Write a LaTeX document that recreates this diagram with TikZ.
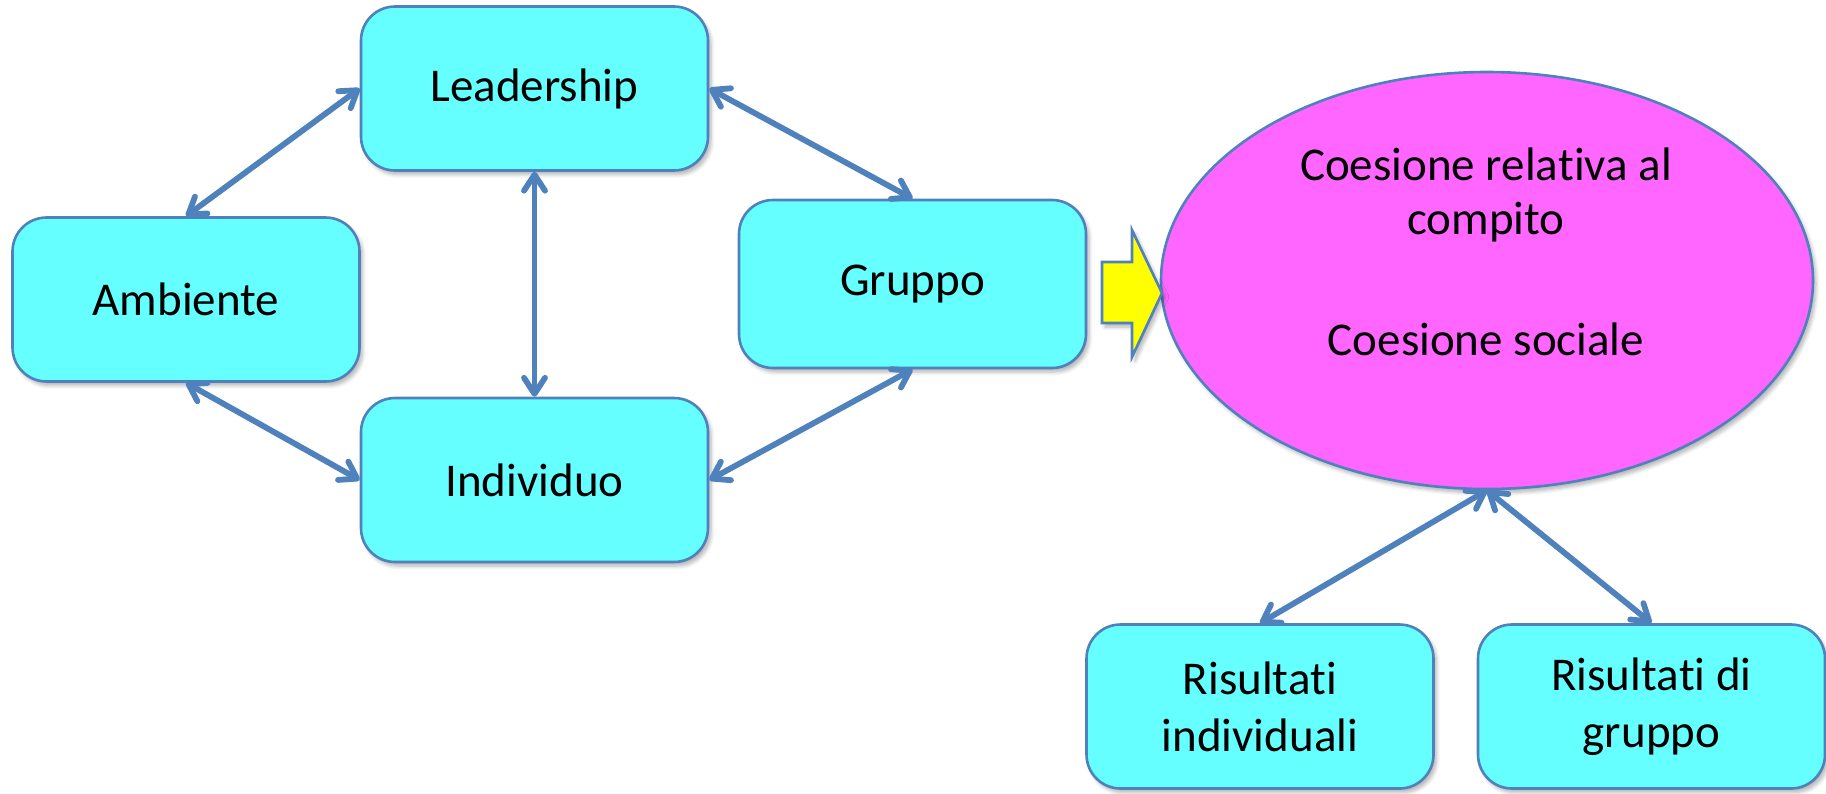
\documentclass[tikz,border=0pt]{standalone}
\usepackage{fontspec}
\setmainfont{Carlito}[Ligatures={NoCommon,NoContextual},Contextuals=NoAlternate]
\usetikzlibrary{arrows.meta,shapes.geometric,shadows.blur}
\definecolor{boxfill}{HTML}{66FFFF}
\definecolor{edge}{HTML}{4F81BD}
\definecolor{cohfill}{HTML}{FF66FF}
\definecolor{arrowfill}{HTML}{FFFF00}

\begin{document}
\begin{tikzpicture}[x=0.5pt,y=-0.5pt,
  softshadow/.style={blur shadow={shadow xshift=1.5pt, shadow yshift=-2pt, shadow blur steps=6, shadow opacity=30}},
  factor/.style={draw=edge, line width=1.3pt, fill=boxfill, rounded corners=17pt,
    minimum width=173.5pt, minimum height=82pt, align=center, inner sep=0pt,
    font=\fontsize{23.5}{28.5}\selectfont, softshadow},
  barb/.tip={Straight Barb[length=8pt,width=10.5pt,round]},
  link/.style={draw=edge, line width=2.9pt, line cap=round, barb-barb},
]
\useasboundingbox (0,0) rectangle (1826,793);

% antecedents of cohesion
\node[factor] (lead) at (534.5,88.5) {Leadership};
\node[factor] (amb)  at (186,299.5) {Ambiente};
\node[factor] (ind)  at (534.5,480) {Individuo};
\node[factor, minimum height=84pt] (grp) at (912.5,284) {Gruppo};

% cohesion
\node[ellipse, draw=edge, line width=1.3pt, fill=cohfill, minimum width=326pt,
  minimum height=208.5pt, inner sep=0pt, softshadow] (coh) at (1487,280.5) {};
\node[align=center, font=\fontsize{23.5}{27}\selectfont] (cohtext) at (1486,252)
  {Coesione rela\kern0pt tiva al\\compito\\[33.5pt]Coesione sociale};

% outcomes
\node[factor] (ri) at (1260,706.5) {Risulta\kern0pt ti\\individuali};
\node[factor] (rg) at (1651.5,706.5) {Risulta\kern0pt ti di\\gruppo};

% block arrow towards cohesion
\draw[draw=edge, line width=1.3pt, fill=arrowfill, line join=miter, softshadow]
  (1102,262) -- (1132,262) -- (1132,230) -- (1162,293) -- (1132,357)
  -- (1132,323) -- (1102,323) -- cycle;

% reciprocal links
\draw[link] (lead.west) -- (amb.north);
\draw[link] (lead.south) -- (ind.north);
\draw[link] (lead.east) -- (grp.north);
\draw[link] (amb.south) -- (ind.west);
\draw[link] (grp.south) -- (ind.east);
\draw[link] (coh.south) -- (ri.north);
\draw[link] (coh.south) -- (rg.north);
\end{tikzpicture}
\end{document}
